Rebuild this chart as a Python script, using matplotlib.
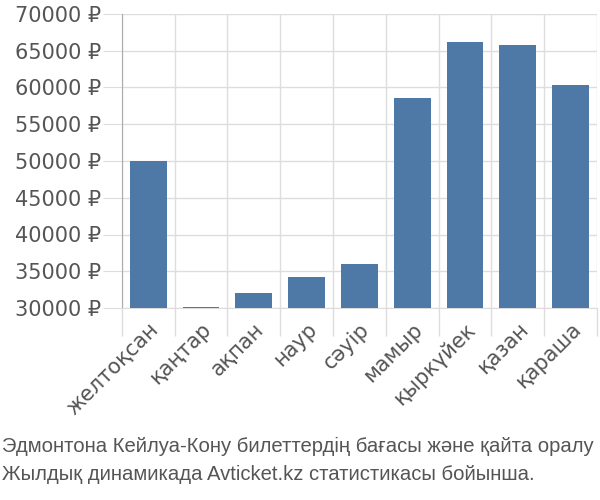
import matplotlib.pyplot as plt
import numpy as np

months = ["желтоқсан", "қаңтар", "ақпан", "наур", "сәуір", "мамыр", "қыркүйек", "қазан", "қараша"]
prices = [50000, 30100, 32000, 34250, 36000, 58600, 66200, 65800, 60300]
yticks = [30000, 35000, 40000, 45000, 50000, 55000, 60000, 65000, 70000]
caption = ["Эдмонтона Кейлуа-Кону билеттердің бағасы және қайта оралу",
           "Жылдық динамикада Avticket.kz статистикасы бойынша."]

plt.rcParams['font.family'] = ['DejaVu Sans']
txt = '#555555'
grid = '#dddddd'

fig = plt.figure(figsize=(6, 5), dpi=100)
ax = fig.add_axes([0.203, 0.384, 0.792, 0.588])

x = np.arange(len(months))
ax.bar(x, prices, width=0.7, bottom=0, color='#4e79a7', zorder=3)

ax.set_xlim(-0.5, len(months) - 0.5)
ax.set_ylim(30000, 70000)
ax.set_yticks(yticks)
ax.set_yticklabels([f"{v} ₽" for v in yticks])
ax.set_xticks(x)
ax.set_xticklabels(months, rotation=45, ha='right', rotation_mode='anchor')
ax.set_xticks(np.arange(len(months) + 1) - 0.5, minor=True)

ax.tick_params(axis='y', length=14, color=grid, labelsize=15, labelcolor=txt, pad=1)
ax.tick_params(axis='x', which='major', length=0, labelsize=15, labelcolor=txt, pad=8)
ax.tick_params(axis='x', which='minor', length=20, color=grid, width=1)

ax.grid(axis='y', color=grid, lw=1, zorder=0)
ax.grid(axis='x', which='minor', color=grid, lw=1, zorder=0)

for s in ['top', 'right']:
    ax.spines[s].set_visible(False)
ax.spines['bottom'].set_color(grid)
ax.spines['left'].set_color('#aaaaaa')

cap_font = ['Liberation Sans', 'DejaVu Sans']
fig.text(0.003, 0.107, caption[0], fontsize=14.6, color=txt, ha='left', va='center', family=cap_font)
fig.text(0.003, 0.05, caption[1], fontsize=14.6, color=txt, ha='left', va='center', family=cap_font)

plt.savefig('out.png', dpi=100)
